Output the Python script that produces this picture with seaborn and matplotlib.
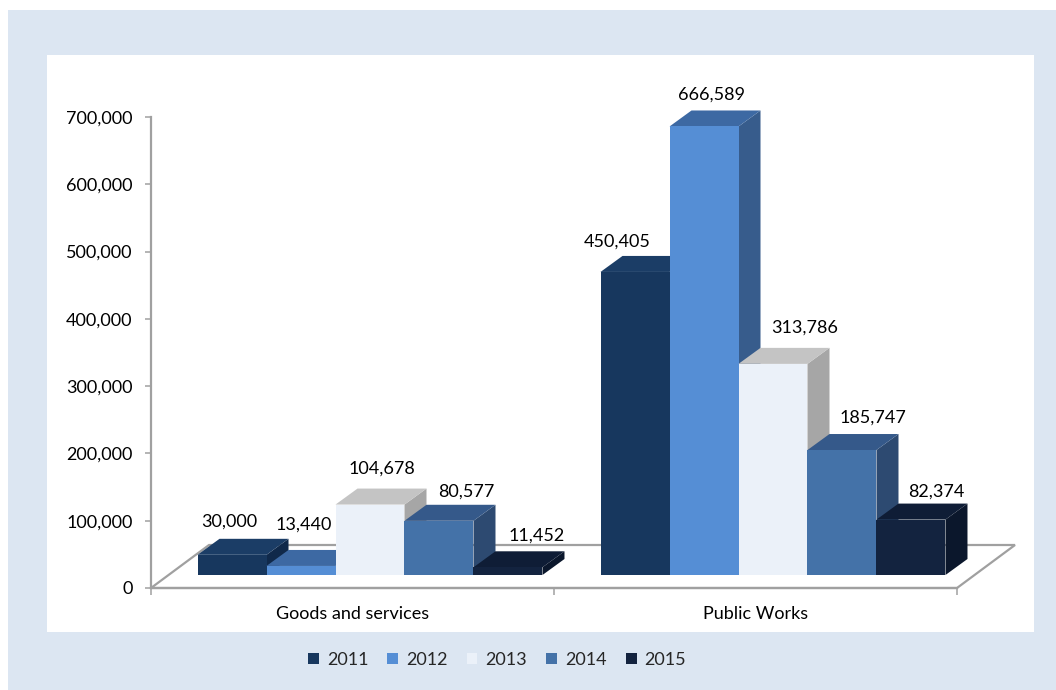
import numpy as np
import pandas as pd
import matplotlib
matplotlib.use("Agg")
import matplotlib.pyplot as plt
import seaborn as sns
from matplotlib.patches import Polygon, Rectangle, Patch
from matplotlib.ticker import FuncFormatter

# ---- data -------------------------------------------------------------
categories = ["Goods and services", "Public Works"]
years = ["2011", "2012", "2013", "2014", "2015"]
goods_services = [30000, 13440, 104678, 80577, 11452]
public_works = [450405, 666589, 313786, 185747, 82374]
y_ticks = [0, 100000, 200000, 300000, 400000, 500000, 600000, 700000]

# ---- styling ----------------------------------------------------------
front_colors = ["#17375E", "#558ED5", "#EBF1F9", "#4472A8", "#13233F"]
top_colors = ["#1B3D66", "#3D69A3", "#C4C4C4", "#35598A", "#0F1D36"]
side_colors = ["#10294A", "#375C8C", "#A6A6A6", "#2D4A71", "#0B172C"]

# label nudges (pixels) relative to the top-centre of each bar's front face
goods_label_nudge = [(-2.5, 33), (2.5, 41), (11.5, 35.5), (27.5, 29), (28.5, 32)]
works_label_nudge = [(-18, 30), (7.5, 32), (31.5, 36), (30.5, 32), (25.5, 28)]

# oblique depth, in pixels
FLOOR_DEPTH = (58, 43)
BAR_SHIFT = (17.5, 13)
BAR_DEPTH = (22, 16)

AXIS_GREY = "#A0A0A0"
FONT_SIZE = 13

sns.set_theme(style="white")
plt.rcParams["font.family"] = ["Lato", "DejaVu Sans"]

W, H = 1056, 690
fig = plt.figure(figsize=(W / 100, H / 100), dpi=100, facecolor="white")

# outer light-blue panel and inner white chart area
fig.patches.append(Rectangle((8 / W, 0), 1 - 8 / W, 1 - 10 / H,
                             transform=fig.transFigure, facecolor="#DCE6F2",
                             edgecolor="none", zorder=-10))
fig.patches.append(Rectangle((47 / W, 1 - 632 / H), (1034 - 47) / W, (632 - 55) / H,
                             transform=fig.transFigure, facecolor="white",
                             edgecolor="none", zorder=-9))

ax_left, ax_right, ax_top, ax_bottom = 151, 957, 117, 588
ax = fig.add_axes([ax_left / W, 1 - ax_bottom / H,
                   (ax_right - ax_left) / W, (ax_bottom - ax_top) / H])
ax.set_facecolor("none")

df = pd.DataFrame({
    "category": np.repeat(categories, len(years)),
    "year": years * len(categories),
    "value": goods_services + public_works,
})

sns.barplot(data=df, x="category", y="value", hue="year",
            order=categories, hue_order=years, palette=front_colors,
            width=0.856, saturation=1, dodge=True, errorbar=None,
            legend=False, linewidth=0, edgecolor="none", ax=ax)

ax.set_xlim(-0.5, len(categories) - 0.5)
ax.set_ylim(0, y_ticks[-1])

# pixel -> data conversion factors
sx = len(categories) / (ax_right - ax_left)
sy = y_ticks[-1] / (ax_bottom - ax_top)

shift_x, shift_y = BAR_SHIFT[0] * sx, BAR_SHIFT[1] * sy
depth_x, depth_y = BAR_DEPTH[0] * sx, BAR_DEPTH[1] * sy

# floor parallelogram
fdx, fdy = FLOOR_DEPTH[0] * sx, FLOOR_DEPTH[1] * sy
x_lo, x_hi = -0.5, len(categories) - 0.5
floor = Polygon([(x_lo, 0), (x_hi, 0), (x_hi + fdx, fdy), (x_lo + fdx, fdy)],
                closed=True, facecolor="none", edgecolor=AXIS_GREY,
                linewidth=1.6, zorder=1, clip_on=False)
ax.add_patch(floor)

nudges = [goods_label_nudge, works_label_nudge]
n_hue = len(years)
for i, container in enumerate(ax.containers):
    for j, bar in enumerate(container.patches):
        x0 = bar.get_x() + shift_x
        w = bar.get_width()
        h = bar.get_height()
        y0 = shift_y
        bar.set_x(x0)
        bar.set_y(y0)
        base = 2 + (j * n_hue + i)
        bar.set_zorder(base + 0.3)
        bar.set_clip_on(False)
        top = Polygon([(x0, y0 + h), (x0 + w, y0 + h),
                       (x0 + w + depth_x, y0 + h + depth_y), (x0 + depth_x, y0 + h + depth_y)],
                      closed=True, facecolor=top_colors[i], edgecolor="none",
                      zorder=base + 0.2, clip_on=False)
        side = Polygon([(x0 + w, y0), (x0 + w + depth_x, y0 + depth_y),
                        (x0 + w + depth_x, y0 + h + depth_y), (x0 + w, y0 + h)],
                       closed=True, facecolor=side_colors[i], edgecolor="none",
                       zorder=base + 0.1, clip_on=False)
        ax.add_patch(side)
        ax.add_patch(top)
        dx, dy = nudges[j][i]
        ax.annotate(f"{int(h):,}", xy=(x0 + w / 2, y0 + h), xytext=(dx, dy),
                    textcoords="offset pixels", ha="center", va="center",
                    fontsize=FONT_SIZE, color="black", zorder=50,
                    annotation_clip=False)

# axes styling
for s in ("top", "right"):
    ax.spines[s].set_visible(False)
for s in ("left", "bottom"):
    ax.spines[s].set_color(AXIS_GREY)
    ax.spines[s].set_linewidth(1.6)
    ax.spines[s].set_zorder(1)

ax.set_yticks(y_ticks)
ax.yaxis.set_major_formatter(FuncFormatter(lambda v, _: f"{int(v):,}"))
ax.tick_params(axis="y", left=True, direction="out", length=4.3, width=1.1,
               color=AXIS_GREY, pad=9, labelsize=FONT_SIZE, labelcolor="black")

ax.set_xticks(range(len(categories)))
ax.set_xticklabels(categories)
ax.set_xticks([x_lo + k for k in range(len(categories) + 1)], minor=True)
ax.tick_params(axis="x", which="major", bottom=True, length=0, pad=13,
               labelsize=FONT_SIZE, labelcolor="black")
ax.tick_params(axis="x", which="minor", bottom=True, direction="out", length=5,
               width=1.1, color=AXIS_GREY)
ax.set_xlabel("")
ax.set_ylabel("")

handles = [Patch(facecolor=c, edgecolor="none", label=y) for c, y in zip(front_colors, years)]
fig.legend(handles=handles, loc="center", bbox_to_anchor=(497 / W, 1 - 660 / H),
           ncol=len(years), frameon=False, fontsize=FONT_SIZE,
           handlelength=0.6, handleheight=0.6, handletextpad=0.45,
           columnspacing=1.05)

fig.savefig("out.png", dpi=100, facecolor=fig.get_facecolor())
